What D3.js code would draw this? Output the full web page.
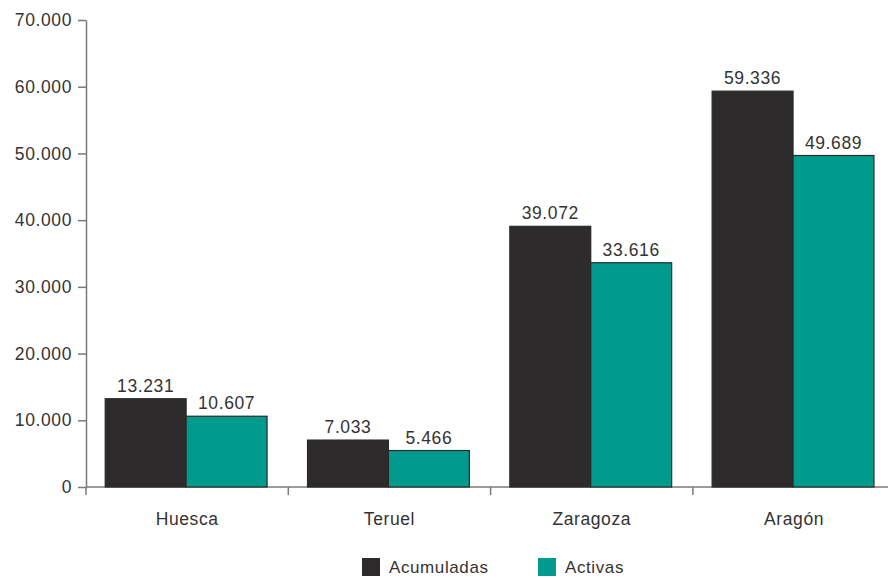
<!DOCTYPE html>
<html><head><meta charset="utf-8">
<script src="https://cdn.jsdelivr.net/npm/d3@7"></script>
<style>
body{margin:0;background:#fff;}
text{font-family:"Liberation Sans",Arial,sans-serif;fill:#333;letter-spacing:0.6px;}
</style></head>
<body>
<svg id="c" width="888" height="578"></svg>
<script>
const categories = ["Huesca","Teruel","Zaragoza","Aragón"];
const series = ["Acumuladas","Activas"];
const acumuladas = [13231, 7033, 39072, 59336];
const activas = [10607, 5466, 33616, 49689];
const yTicks = [0,10000,20000,30000,40000,50000,60000,70000];
const colors = ["#2d2b2c","#009b8d"];

(function(){
const svg = d3.select("#c");
const loc = d3.formatLocale({thousands:".", decimal:",", grouping:[3], currency:["",""]});
const fmt = loc.format(",d");
const fs = 17.5;

const mLeft = 86, mBottom = 487, mTop = 20;
const step = 202.3;
const x = d3.scaleBand().domain(categories).range([mLeft, mLeft + step*categories.length]).padding(0);
const xs = d3.scaleBand().domain(series).range([x.bandwidth()*0.095, x.bandwidth()*0.895]).padding(0);
const y = d3.scaleLinear().domain([0,70000]).range([mBottom, mTop]);

const axisColor = "#7a7a7a";
// y axis
const gy = svg.append("g").attr("transform",`translate(${mLeft},0)`)
  .call(d3.axisLeft(y).tickValues(yTicks).tickSize(8).tickSizeOuter(0).tickPadding(6).tickFormat(d=>fmt(d)));
gy.select(".domain").attr("stroke",axisColor).attr("stroke-width",1.5);
gy.selectAll(".tick line").attr("stroke",axisColor).attr("stroke-width",1.5);
gy.selectAll(".tick text").attr("font-size",fs).attr("fill","#333").style("font-family",'"Liberation Sans",Arial,sans-serif');

// x axis
const boundaries = d3.range(categories.length+1).map(i => mLeft + step*i);
svg.append("line").attr("x1",mLeft).attr("x2",888).attr("y1",mBottom).attr("y2",mBottom).attr("stroke",axisColor).attr("stroke-width",1.5);
svg.append("g").selectAll("line").data(boundaries).join("line")
  .attr("x1",d=>d).attr("x2",d=>d).attr("y1",mBottom).attr("y2",mBottom+8)
  .attr("stroke",axisColor).attr("stroke-width",1.5);
svg.append("g").selectAll("text").data(categories).join("text")
  .attr("x",d=>x(d)+x.bandwidth()/2).attr("y",525).attr("text-anchor","middle").attr("font-size",fs).text(d=>d);

// bars
const data = categories.map((c,i)=>({cat:c, vals:[{s:series[0],v:acumuladas[i]},{s:series[1],v:activas[i]}]}));
const g = svg.append("g").selectAll("g").data(data).join("g").attr("transform",d=>`translate(${x(d.cat)},0)`);
g.selectAll("rect").data(d=>d.vals).join("rect")
  .attr("x",d=>xs(d.s)).attr("width",xs.bandwidth())
  .attr("y",d=>y(d.v)).attr("height",d=>mBottom-y(d.v))
  .attr("fill",(d,i)=>colors[i]).attr("stroke","#2a2a2a").attr("stroke-width",1.2);
g.selectAll("text").data(d=>d.vals).join("text")
  .attr("x",d=>xs(d.s)+xs.bandwidth()/2).attr("y",d=>y(d.v)-7)
  .attr("text-anchor","middle").attr("font-size",fs).text(d=>fmt(d.v));

// legend
const legendX = [362, 538];
const lg = svg.append("g").selectAll("g").data(series).join("g").attr("transform",(d,i)=>`translate(${legendX[i]},558)`);
lg.append("rect").attr("width",18).attr("height",18).attr("fill",(d,i)=>colors[i]);
lg.append("text").attr("x",27).attr("y",15).attr("font-size",17).text(d=>d);
})();
</script>
</body></html>
